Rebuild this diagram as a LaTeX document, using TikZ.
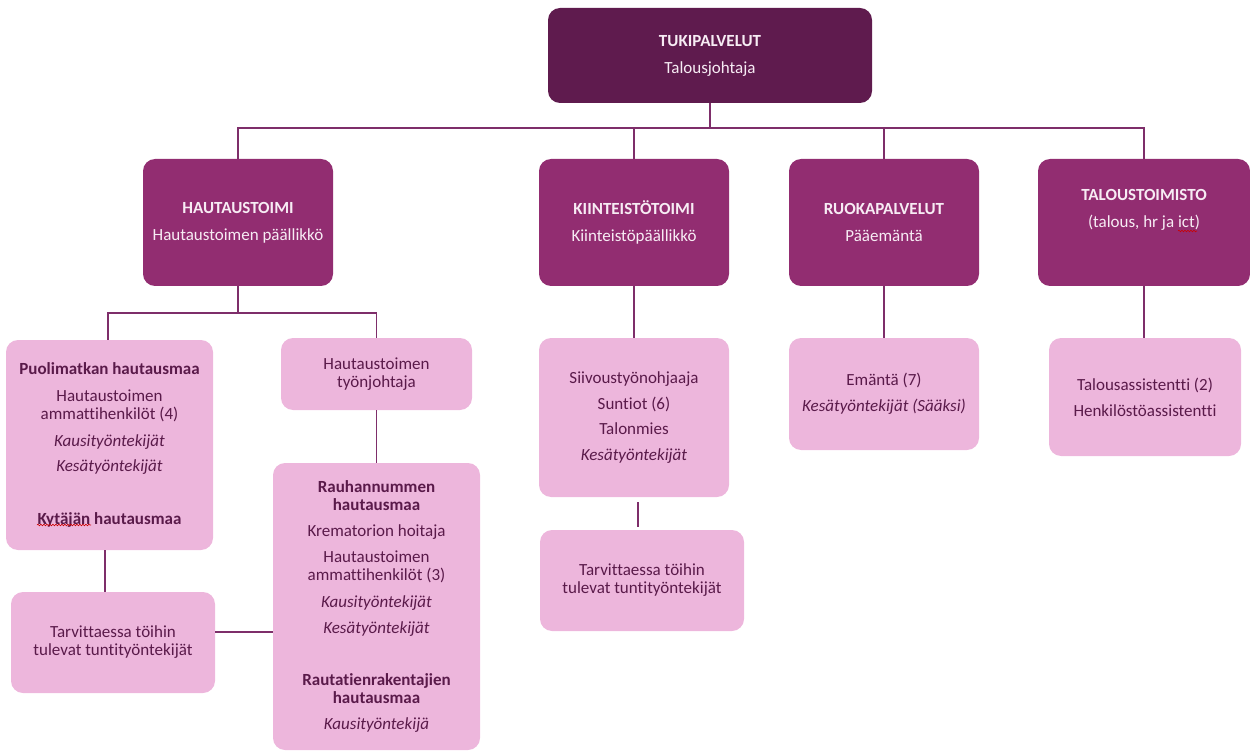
\documentclass[tikz,border=0pt]{standalone}
\usepackage{fontspec}
\setmainfont{Carlito}[Ligatures=NoCommon]
\usetikzlibrary{decorations.pathmorphing}
\definecolor{topc}{HTML}{5F1B4E}
\definecolor{midc}{HTML}{922D71}
\definecolor{lowc}{HTML}{EDB6DC}
\definecolor{txtc}{HTML}{5A1A4A}
\definecolor{linec}{HTML}{7E2E6A}
\definecolor{wtxt}{HTML}{F7ECF4}
\tikzset{
  base/.style={rounded corners=12pt, inner sep=0pt, align=center,
    font=\fontsize{17}{18}\selectfont},
  topbox/.style={base, fill=topc, text=wtxt},
  midbox/.style={base, fill=midc, text=wtxt},
  lowbox/.style={base, fill=lowc, text=txtc},
  conn/.style={draw=linec, line width=1.3pt},
  squig/.style={draw=red!80!black, line width=0.6pt, decorate,
    decoration={snake, amplitude=0.8pt, segment length=3pt}}
}
\begin{document}
\begin{tikzpicture}[x=1pt, y=-1pt]
\useasboundingbox (0,0) rectangle (1250,751);
% top
\node[topbox, minimum width=324, minimum height=95] (top) at (710,55.5)
  {\textbf{TUKIPALVELUT}\\[9pt]Talousjohtaja};
% second level
\node[midbox, minimum width=190, minimum height=127] (haut) at (238,222.5)
  {\textbf{HAUTAUSTOIMI}\\[9pt]Hautaustoimen päällikkö};
\node[midbox, minimum width=190, minimum height=127] (kiint) at (634,222.5)
  {\textbf{KIINTEISTÖTOIMI}\\[9pt]Kiinteistöpäällikkö};
\node[midbox, minimum width=190, minimum height=127] (ruoka) at (884,222.5)
  {\textbf{RUOKAPALVELUT}\\[9pt]Pääemäntä};
\node[midbox, minimum width=212, minimum height=127] (talous) at (1144,222.5) {};
\node[base, text=wtxt] (taloustxt) at (1144,209.5)
  {\textbf{TALOUSTOIMISTO}\\[9pt](talous, hr ja ict)};
% third level
\node[lowbox, minimum width=207, minimum height=210] (puol) at (109.5,445)
  {\textbf{Puolimatkan hautausmaa}\\[9pt]Hautaustoimen\\ammattihenkilöt (4)\\[9pt]\textit{Kausityöntekijät}\\[7pt]\textit{Kesätyöntekijät}\\[35pt]\textbf{Kytäjän hautausmaa}};
\node[lowbox, minimum width=191, minimum height=72] (tyon) at (376.5,374)
  {Hautaustoimen\\työnjohtaja};
\node[lowbox, minimum width=207, minimum height=287] (rauh) at (376.5,606.5)
  {\textbf{Rauhannummen}\\\textbf{hautausmaa}\\[8pt]Krematorion hoitaja\\[8pt]Hautaustoimen\\ammattihenkilöt (3)\\[9pt]\textit{Kausityöntekijät}\\[8pt]\textit{Kesätyöntekijät}\\[34pt]\textbf{Rautatienrakentajien}\\\textbf{hautausmaa}\\[8pt]\textit{Kausityöntekijä}};
\node[lowbox, minimum width=204, minimum height=101] (tarv1) at (113,642.5)
  {Tarvittaessa töihin\\tulevat tuntityöntekijät};
\node[lowbox, minimum width=190, minimum height=159] (kiintlow) at (634,417.5)
  {Siivoustyönohjaaja\\[8pt]Suntiot (6)\\[7pt]Talonmies\\[8pt]\textit{Kesätyöntekijät}};
\node[lowbox, minimum width=204, minimum height=101] (tarv2) at (642,580.5)
  {Tarvittaessa töihin\\tulevat tuntityöntekijät};
\node[lowbox, minimum width=190, minimum height=112] (ruokalow) at (884,394)
  {Emäntä (7)\\[8pt]\textit{Kesätyöntekijät (Sääksi)}};
\node[lowbox, minimum width=192, minimum height=118] (taloulow) at (1145,397)
  {Talousassistentti (2)\\[8pt]Henkilöstöassistentti};
% connectors
\coordinate (bus) at (710,128);
\coordinate (hbus) at (238,313);
\coordinate (h632) at (0,632);
\draw[conn] (top.south) -- (bus);
\draw[conn] (haut.north) -- (haut.north |- bus) -- (talous.north |- bus) -- (talous.north);
\draw[conn] (kiint.north) -- (kiint.north |- bus);
\draw[conn] (ruoka.north) -- (ruoka.north |- bus);
\draw[conn] (haut.south) -- (hbus);
\draw[conn] ([xshift=-1.5pt]puol.north) -- ([xshift=-1.5pt]puol.north |- hbus) -- (tyon.north |- hbus) -- (tyon.north);
\draw[conn] (tyon.south) -- (rauh.north);
\draw[conn] ([xshift=-4.5pt]puol.south) -- ([xshift=-4.5pt]puol.south |- tarv1.north);
\draw[conn] (tarv1.east |- h632) -- (rauh.west |- h632);
\draw[conn, shorten <=5pt, shorten >=3pt] ([xshift=4pt]kiintlow.south) -- ([xshift=4pt]kiintlow.south |- tarv2.north);
\draw[conn] (kiint.south) -- (kiintlow.north);
\draw[conn] (ruoka.south) -- (ruokalow.north);
\draw[conn] (talous.south |- taloulow.north) -- (talous.south);
% spell-check marks
\draw[squig] (37,525) -- (91,525);
\draw[squig] (1178,231) -- (1197,231);
\end{tikzpicture}
\end{document}
